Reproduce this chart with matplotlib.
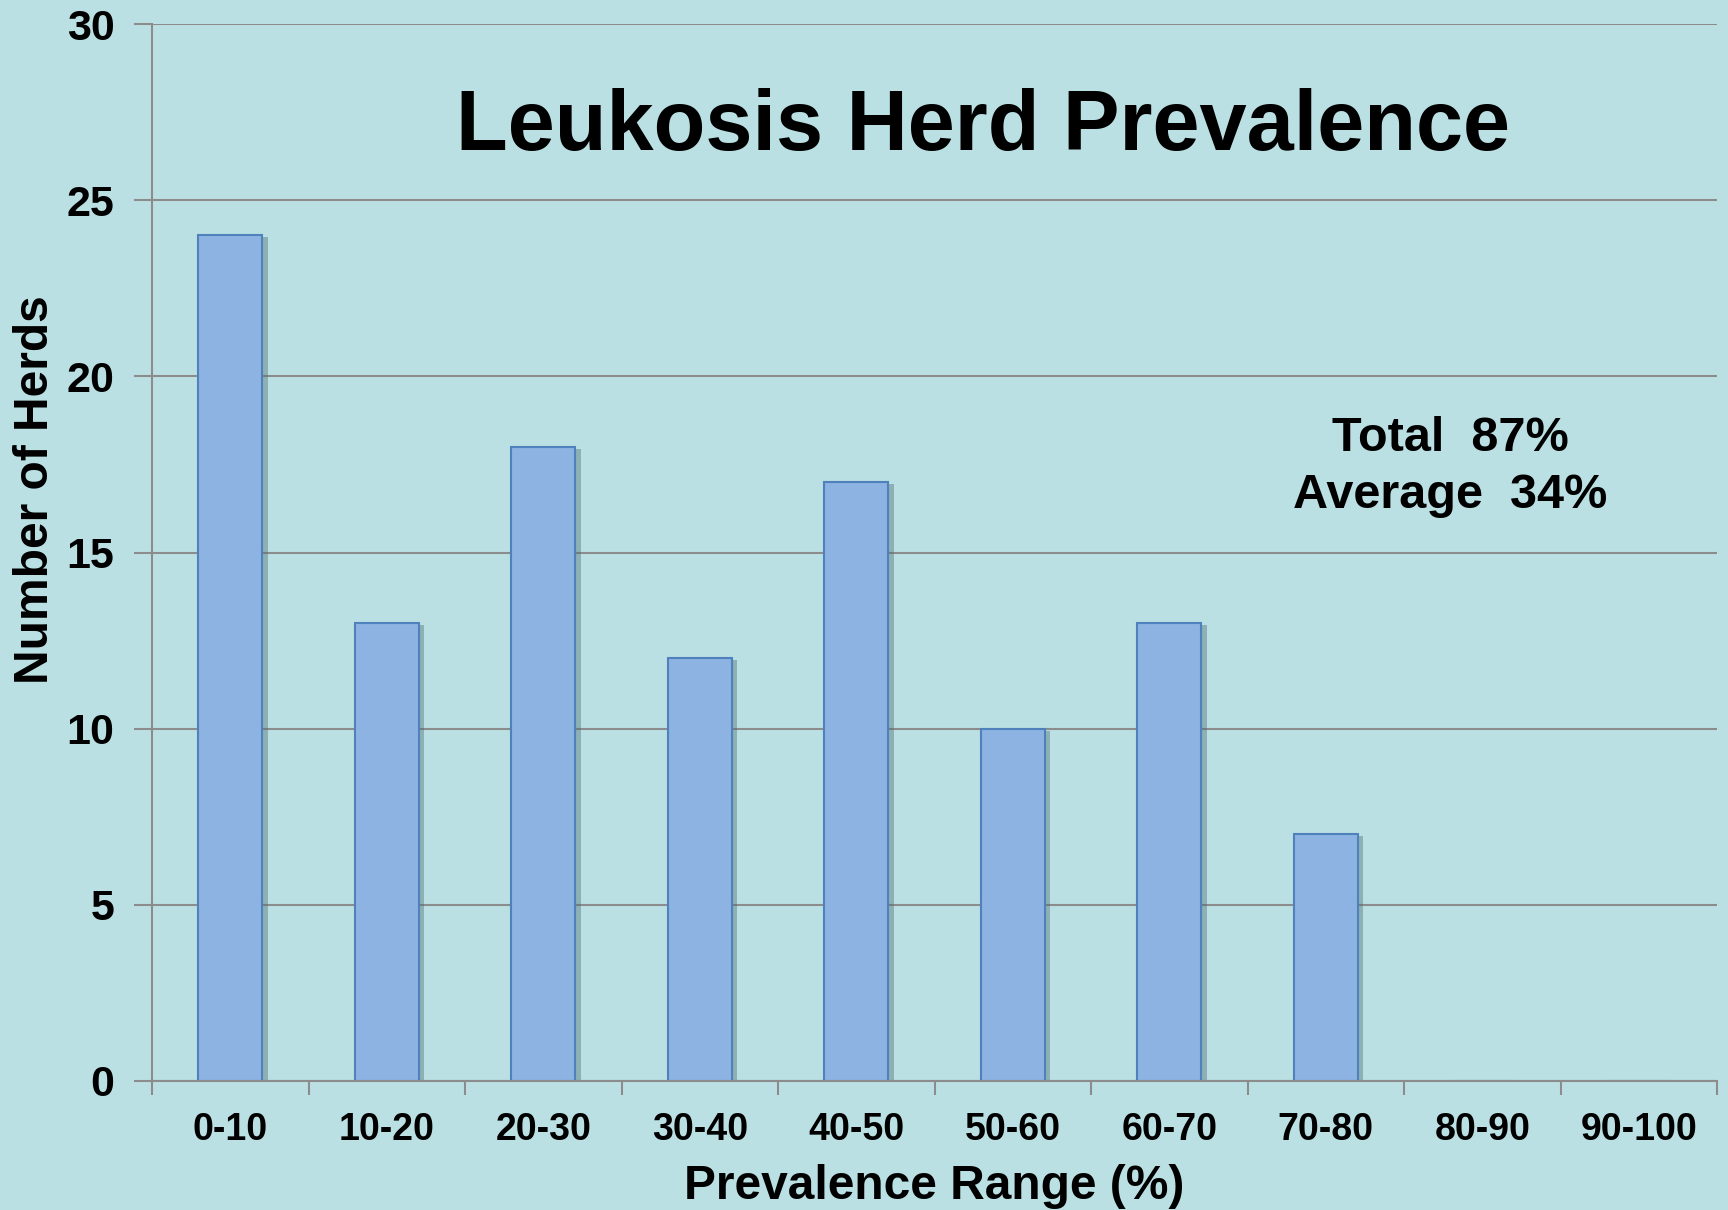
import matplotlib
matplotlib.use("Agg")
import matplotlib.pyplot as plt
import matplotlib.patheffects as pe
import numpy as np

categories = ["0-10", "10-20", "20-30", "30-40", "40-50", "50-60",
              "60-70", "70-80", "80-90", "90-100"]
herds = [24, 13, 18, 12, 17, 10, 13, 7, 0, 0]
y_ticks = [0, 5, 10, 15, 20, 25, 30]

title = "Leukosis Herd Prevalence"
note_lines = ["Total  87%", "Average  34%"]
xlabel = "Prevalence Range (%)"
ylabel = "Number of Herds"

bg = "#BAE0E3"
bar_fill = "#8DB3E2"
bar_edge = "#4F81BD"
grid_col = "#8C8C8C"

plt.rcParams["font.family"] = ["Liberation Sans", "DejaVu Sans"]
plt.rcParams["font.weight"] = "bold"

W, H = 1728, 1210
fig = plt.figure(figsize=(W / 100, H / 100), dpi=100, facecolor=bg)
ax = fig.add_axes([152 / W, 1 - 1081 / H, (1717 - 152) / W, (1081 - 24) / H], facecolor=bg)

x = np.arange(len(categories))
bars = ax.bar(x, herds, width=0.41, color=bar_fill, edgecolor=bar_edge,
              linewidth=1.5, zorder=3)
for b in bars:
    if b.get_height() > 0:
        b.set_path_effects([pe.SimplePatchShadow(offset=(4, -1.5), shadow_rgbFace="#4a6a72", alpha=0.4),
                            pe.Normal()])

ax.set_xlim(-0.5, len(categories) - 0.5)
ax.set_ylim(0, 30)
ax.set_yticks(y_ticks)
ax.set_yticklabels([str(v) for v in y_ticks], fontsize=31, fontweight="bold")
ax.set_xticks(x)
ax.set_xticklabels(categories, fontsize=27, fontweight="bold")
ax.set_xticks(np.arange(-0.5, len(categories)), minor=True)
ax.tick_params(axis="x", which="major", length=0, pad=22)
ax.tick_params(axis="x", which="minor", length=10, width=1.5, color=grid_col, direction="out")
ax.tick_params(axis="y", which="major", length=13, width=1.5, color=grid_col, pad=14)

ax.yaxis.grid(True, color=grid_col, linewidth=1.5, zorder=0)
ax.set_axisbelow(True)
for s in ["top", "right"]:
    ax.spines[s].set_visible(False)
for s in ["left", "bottom"]:
    ax.spines[s].set_color(grid_col)
    ax.spines[s].set_linewidth(1.5)
ax.spines["bottom"].set_zorder(4)

fig.text((152 + 1717) / 2 / W, 1 - 1199 / H, xlabel, fontsize=34.5,
         fontweight="bold", ha="center", va="baseline")
fig.text(36 / W, 1 - 490 / H, ylabel, rotation=90, fontsize=34.5,
         fontweight="bold", ha="center", va="center")

fig.text(983 / W, 1 - 150 / H, title, fontsize=61, fontweight="bold",
         ha="center", va="baseline")
for line, base in zip(note_lines, [451, 508]):
    fig.text(1450 / W, 1 - base / H, line, fontsize=35, fontweight="bold",
             ha="center", va="baseline")

fig.savefig("out.png", dpi=100, facecolor=bg)
